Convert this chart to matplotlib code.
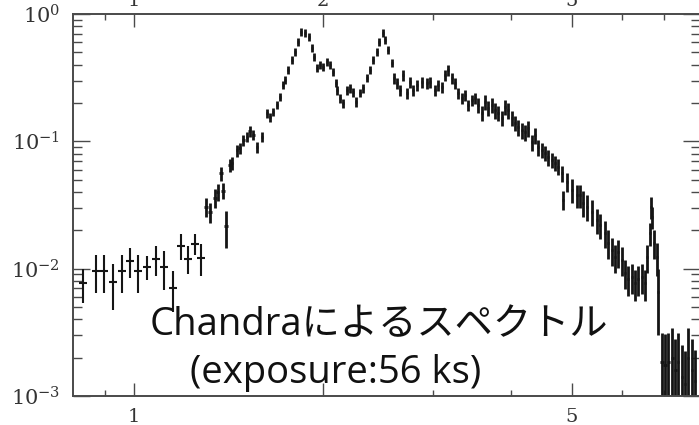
import matplotlib
matplotlib.use("Agg")
import matplotlib.pyplot as plt
from matplotlib.ticker import NullFormatter, FixedLocator

plt.rcParams['mathtext.fontset'] = 'dejavuserif'
plt.rcParams['font.family'] = ['DejaVu Serif']

# ---- data (energy keV, flux, errors) ----
energy = [0.83, 0.87, 0.897, 0.926, 0.958, 0.987, 1.016, 1.05, 1.085, 1.118,
          1.155, 1.19, 1.22, 1.252, 1.28,
          1.304, 1.323, 1.348, 1.362, 1.378, 1.388, 1.403, 1.424, 1.434, 1.461,
          1.477, 1.494, 1.516, 1.532, 1.55, 1.573, 1.602, 1.632, 1.649, 1.668,
          1.692, 1.711, 1.73, 1.743, 1.762, 1.788, 1.808, 1.828, 1.848, 1.876,
          1.904, 1.925, 1.939, 1.961, 1.982, 2.004, 2.034, 2.056, 2.079, 2.102,
          2.11, 2.133, 2.157, 2.188, 2.213, 2.237, 2.262, 2.295, 2.321, 2.355,
          2.382, 2.408, 2.443, 2.461, 2.498, 2.516, 2.544, 2.582, 2.601, 2.63,
          2.659, 2.688, 2.728, 2.758, 2.789, 2.829, 2.882, 2.936, 2.968, 3.023,
          3.056, 3.102, 3.136, 3.171, 3.218, 3.253, 3.289, 3.338, 3.375, 3.413,
          3.463, 3.501, 3.54, 3.592, 3.632, 3.673, 3.727, 3.768, 3.81, 3.866,
          3.909, 3.953, 4.011, 4.055, 4.1, 4.161, 4.207, 4.254, 4.317, 4.364,
          4.412, 4.478, 4.527, 4.577, 4.645, 4.696, 4.748, 4.819, 4.836, 4.909,
          5.0, 5.092, 5.149, 5.206, 5.283, 5.381, 5.48, 5.541, 5.644, 5.706,
          5.79, 5.854, 5.918, 6.006, 6.073, 6.14, 6.23, 6.3, 6.37, 6.464,
          6.536, 6.584, 6.657, 6.683, 6.706, 6.756, 6.831, 6.856,
          6.958, 7.036, 7.114, 7.219, 7.3, 7.379, 7.489, 7.572, 7.656, 7.768, 7.855]

flux = [0.0077, 0.0096, 0.0096, 0.0078, 0.0096, 0.0115, 0.0096, 0.0103, 0.0119, 0.0103,
        0.0071, 0.0151, 0.0120, 0.0157, 0.0122,
        0.0306, 0.028, 0.036, 0.040, 0.056, 0.041, 0.0215, 0.065, 0.0676, 0.085,
        0.088, 0.102, 0.108, 0.12, 0.112, 0.09, 0.108, 0.166, 0.155, 0.17,
        0.193, 0.223, 0.277, 0.303, 0.364, 0.435, 0.503, 0.603, 0.722, 0.71,
        0.66, 0.54, 0.459, 0.377, 0.397, 0.384, 0.42, 0.397, 0.35, 0.287,
        0.253, 0.219, 0.2, 0.253, 0.262, 0.244, 0.204, 0.24, 0.262, 0.314,
        0.364, 0.435, 0.503, 0.603, 0.71, 0.625, 0.52, 0.412, 0.314, 0.287,
        0.253, 0.332, 0.24, 0.292, 0.253, 0.277, 0.292, 0.287, 0.292, 0.253,
        0.277, 0.267, 0.332, 0.364, 0.314, 0.287, 0.24, 0.219, 0.231, 0.193,
        0.211, 0.219, 0.193, 0.167, 0.204, 0.183, 0.193, 0.176, 0.167, 0.152,
        0.186, 0.176, 0.152, 0.139, 0.129, 0.122, 0.118, 0.127, 0.0987, 0.112,
        0.09, 0.0855, 0.081, 0.075, 0.0713, 0.0676, 0.063, 0.056, 0.0347, 0.048,
        0.0415, 0.0377, 0.0377, 0.033, 0.0306, 0.028, 0.0241, 0.022, 0.019, 0.016,
        0.014, 0.0123, 0.0135, 0.0117, 0.0093, 0.0083, 0.0086, 0.0077, 0.0083, 0.0086,
        0.0077, 0.0123, 0.019, 0.0306, 0.0255, 0.016, 0.0123, 0.0065,
        0.00185, 0.00175, 0.00185, 0.002, 0.0016, 0.00185, 0.0014, 0.00125, 0.002, 0.0016, 0.0013]

flux_err = [0.0023, 0.0032, 0.0032, 0.0031, 0.0032, 0.0030, 0.0032, 0.0022, 0.0032, 0.0035,
            0.0025, 0.0035, 0.0030, 0.0030, 0.0035,
            0.005, 0.005, 0.006, 0.006, 0.007, 0.006, 0.007, 0.008, 0.008, 0.009,
            0.009, 0.010, 0.010, 0.011, 0.010, 0.009, 0.010,
            0.013, 0.012, 0.013, 0.015, 0.017, 0.021, 0.023, 0.027, 0.032, 0.037,
            0.044, 0.052, 0.051, 0.048, 0.04, 0.034, 0.028, 0.03, 0.029, 0.031,
            0.03, 0.026, 0.022, 0.02, 0.018, 0.016, 0.02, 0.021, 0.02, 0.017,
            0.019, 0.021, 0.024, 0.027, 0.032, 0.037, 0.044, 0.051, 0.046, 0.039,
            0.031,
            0.031, 0.029, 0.025, 0.033, 0.024, 0.029, 0.025, 0.028, 0.029, 0.029,
            0.029, 0.025, 0.028, 0.027, 0.033, 0.036, 0.031, 0.029, 0.024, 0.022,
            0.023, 0.02, 0.021, 0.022,
            0.027, 0.023, 0.029, 0.026, 0.027, 0.025, 0.023, 0.021, 0.026, 0.025,
            0.021, 0.019, 0.018, 0.017, 0.017, 0.018, 0.014, 0.016, 0.013, 0.012,
            0.011, 0.011, 0.01, 0.0095, 0.009, 0.008, 0.006, 0.008,
            0.009, 0.008, 0.008, 0.0075, 0.007, 0.0065, 0.0055, 0.005, 0.0045, 0.004,
            0.0035, 0.003, 0.0033, 0.003, 0.0024, 0.0022, 0.0023, 0.0021, 0.0022, 0.0023,
            0.0021,
            0.003, 0.004, 0.006, 0.005, 0.004, 0.0035, 0.0035,
            0.0013, 0.0013, 0.0013, 0.0014, 0.0012, 0.0013, 0.0011, 0.001, 0.0014, 0.0012, 0.001]

energy_err = [0.013, 0.013, 0.013, 0.014, 0.014, 0.014, 0.015, 0.015, 0.016, 0.016,
              0.017, 0.017, 0.018, 0.018, 0.018,
              0.008, 0.008, 0.008, 0.008, 0.008, 0.008, 0.008, 0.008, 0.008, 0.008,
              0.008, 0.008, 0.008, 0.008, 0.008, 0.008, 0.008, 0.006, 0.006, 0.006,
              0.006, 0.006, 0.006, 0.006, 0.006, 0.006, 0.006, 0.006, 0.006, 0.006,
              0.006, 0.006, 0.006, 0.006, 0.006, 0.006, 0.006, 0.006, 0.006, 0.006,
              0.006, 0.006, 0.006, 0.007, 0.007, 0.007, 0.007, 0.007, 0.007, 0.007,
              0.007, 0.007, 0.007, 0.007, 0.007, 0.007, 0.007, 0.008, 0.008, 0.008,
              0.008, 0.008, 0.008, 0.008, 0.008, 0.009, 0.009, 0.009, 0.009, 0.009,
              0.009, 0.01, 0.01, 0.01, 0.01, 0.01, 0.01, 0.01, 0.011, 0.011,
              0.011, 0.011, 0.011, 0.011, 0.012, 0.012, 0.012, 0.012, 0.012, 0.012,
              0.013, 0.013, 0.013, 0.013, 0.013, 0.013, 0.014, 0.014, 0.014, 0.014,
              0.014, 0.015, 0.015, 0.015, 0.015, 0.015, 0.016, 0.016, 0.016, 0.016,
              0.017, 0.017, 0.017, 0.017, 0.018, 0.018, 0.018, 0.018, 0.019, 0.019,
              0.019, 0.02, 0.02, 0.02, 0.02, 0.021, 0.021, 0.021, 0.022, 0.022,
              0.022, 0.022, 0.022, 0.022, 0.022, 0.022, 0.023, 0.023,
              0.04, 0.04, 0.04, 0.04, 0.04, 0.04, 0.04, 0.04, 0.04, 0.04, 0.04]

n_soft = 15  # number of sparse low-energy bins drawn as thin crosses

top_ticks = [1, 2, 5]
top_labels = ['1', '2', '5']
bottom_labels = ['1', '', '5']
minor_x = [0.9, 3, 4, 6, 7]
title_line1 = 'Chandraによるスペクトル'
title_line2 = '(exposure:56 ks)'

W, H = 699, 425
fig = plt.figure(figsize=(W / 100, H / 100), dpi=100)
ax = fig.add_axes([73 / W, (H - 396) / H, 627 / W, 382 / H])

ax.errorbar(energy[:n_soft], flux[:n_soft], xerr=energy_err[:n_soft],
            yerr=flux_err[:n_soft], fmt='none', ecolor='#151515',
            elinewidth=1.5, capsize=0)
ax.errorbar(energy[n_soft:], flux[n_soft:], xerr=energy_err[n_soft:],
            yerr=flux_err[n_soft:], fmt='none', ecolor='#151515',
            elinewidth=2.0, capsize=0)

ax.set_xscale('log')
ax.set_yscale('log')
ax.set_xlim(0.8, 8.0)
ax.set_ylim(1e-3, 1.0)

spine_c = '#4a4a4a'
for s in ax.spines.values():
    s.set_color(spine_c)
    s.set_linewidth(1.4)

ax.xaxis.set_major_locator(FixedLocator(top_ticks))
ax.xaxis.set_minor_locator(FixedLocator(minor_x))
ax.set_xticklabels(bottom_labels)
ax.xaxis.set_minor_formatter(NullFormatter())

lab_c = '#333333'
ax.tick_params(axis='both', which='both', direction='in', top=True, right=True,
               color=spine_c, width=1.0, labelcolor=lab_c)
ax.tick_params(axis='x', which='major', length=9.4, pad=8.5, labelsize=14)
ax.tick_params(axis='x', which='minor', length=4.3)
ax.tick_params(axis='y', which='major', length=12.2, pad=9.4, labelsize=15)
ax.tick_params(axis='y', which='minor', length=6.5)

sec = ax.secondary_xaxis('top')
sec.set_xticks(top_ticks)
sec.set_xticklabels(top_labels)
sec.xaxis.set_minor_locator(FixedLocator([]))
sec.tick_params(axis='x', which='both', length=0, pad=3, labelsize=14,
                labelcolor=lab_c)
sec.spines['top'].set_visible(False)

txt_family = ['Open Sans', 'Noto Sans CJK JP', 'DejaVu Sans']
ax.text(0.1228, 0.1597, title_line1, transform=ax.transAxes, ha='left',
        va='baseline', fontsize=27.5, family=txt_family, color='#111111')
ax.text(0.1866, 0.034, title_line2, transform=ax.transAxes, ha='left',
        va='baseline', fontsize=27.5, family=txt_family, color='#111111')

fig.savefig('out.png', dpi=100)
